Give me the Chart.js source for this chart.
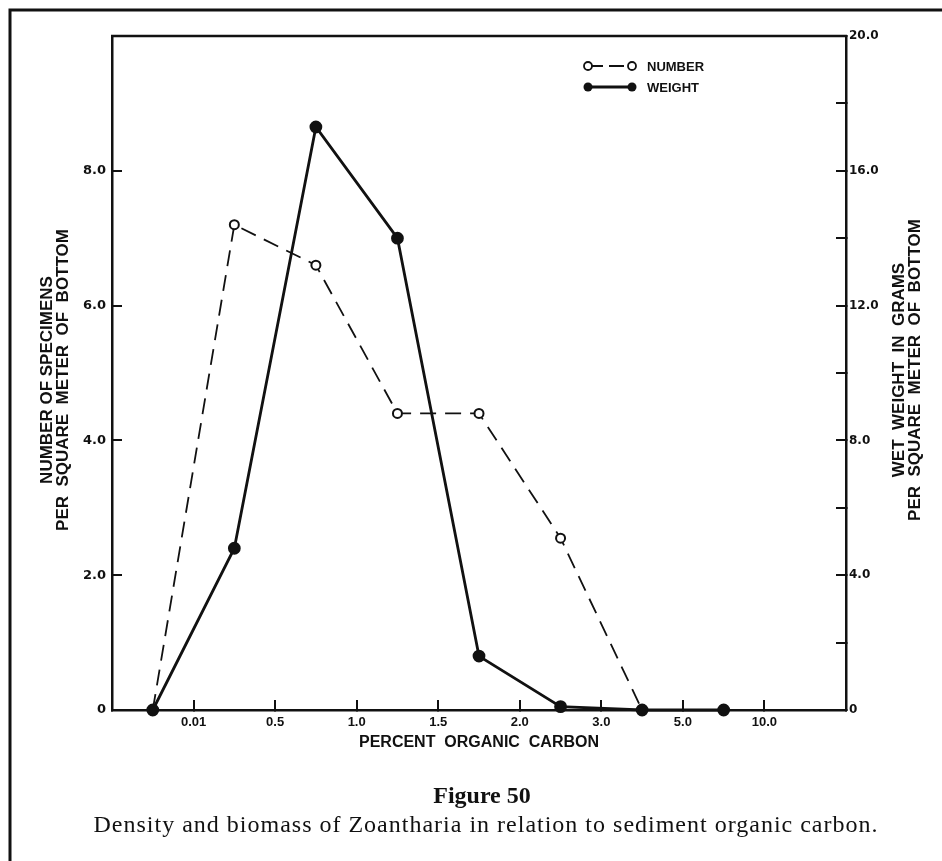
<!DOCTYPE html>
<html>
<head>
<meta charset="utf-8">
<script src="https://cdn.jsdelivr.net/npm/chart.js@4.4.0/dist/chart.umd.min.js"></script>
<style>
  body { margin: 0; background: #fff; }
  #wrap { width: 942px; height: 861px; }
</style>
</head>
<body>
<div id="wrap"><canvas id="fig50" width="942" height="861"></canvas></div>
<script>
// percent organic carbon classes, each point sits in the middle of its class
var carbonClasses = ["<0.01", "0.01-0.5", "0.5-1.0", "1.0-1.5", "1.5-2.0", "2.0-3.0", "3.0-5.0", "5.0-10.0"];
// tick labels sit on the class boundaries
var boundaryLabels = ["0.01", "0.5", "1.0", "1.5", "2.0", "3.0", "5.0", "10.0"];
// number of specimens per square meter (left axis)
var numberVals = [0, 7.2, 6.6, 4.4, 4.4, 2.55, 0, 0];
// wet weight in grams per square meter (right axis)
var weightVals = [0, 4.8, 17.3, 14.0, 1.6, 0.1, 0, 0];

var INK = "#111";

function toPoints(vals) {
  return vals.map(function (v, i) { return { x: i + 0.5, y: v }; });
}

var tickGrid = {
  drawOnChartArea: false,
  drawTicks: true,
  tickLength: -10,
  color: INK,
  lineWidth: 2
};
var axisBorder = { display: true, color: INK, width: 2.5 };

// rotated two-line axis title, reads bottom to top
function sideTitle(ctx, lines, x, y) {
  ctx.save();
  ctx.translate(x, y);
  ctx.rotate(-Math.PI / 2);
  ctx.font = "bold 17px 'Liberation Sans'";
  ctx.textAlign = "center";
  ctx.textBaseline = "middle";
  ctx.fillText(lines[0], 0, -8);
  ctx.fillText(lines[1], 0, 8);
  ctx.restore();
}

var extras = {
  id: "figureExtras",
  afterDraw: function (chart) {
    var ctx = chart.ctx;
    var a = chart.chartArea;
    ctx.save();
    ctx.strokeStyle = INK;
    ctx.fillStyle = INK;

    // top edge of plot box
    ctx.lineWidth = 2.5;
    ctx.beginPath();
    ctx.moveTo(a.left - 1, a.top);
    ctx.lineTo(a.right + 1, a.top);
    ctx.stroke();

    // page frame (top and left)
    ctx.lineWidth = 3;
    ctx.beginPath();
    ctx.moveTo(10, 861);
    ctx.lineTo(10, 10);
    ctx.lineTo(942, 10);
    ctx.stroke();

    // legend
    var lx = 588, lx2 = 632;
    ctx.lineWidth = 1.8;
    ctx.setLineDash([15, 6]);
    ctx.beginPath();
    ctx.moveTo(lx, 66); ctx.lineTo(lx2, 66);
    ctx.stroke();
    ctx.setLineDash([]);
    [lx, lx2].forEach(function (x) {
      ctx.beginPath();
      ctx.arc(x, 66, 4, 0, Math.PI * 2);
      ctx.fillStyle = "#fff";
      ctx.fill();
      ctx.stroke();
    });
    ctx.fillStyle = INK;
    ctx.lineWidth = 2.8;
    ctx.beginPath();
    ctx.moveTo(lx, 87); ctx.lineTo(lx2, 87);
    ctx.stroke();
    [lx, lx2].forEach(function (x) {
      ctx.beginPath();
      ctx.arc(x, 87, 4.5, 0, Math.PI * 2);
      ctx.fill();
    });
    ctx.font = "bold 13px 'Liberation Sans'";
    ctx.textAlign = "left";
    ctx.textBaseline = "middle";
    ctx.fillText("NUMBER", 647, 67);
    ctx.fillText("WEIGHT", 647, 88);

    // axis titles
    sideTitle(ctx, ["NUMBER OF SPECIMENS", "PER  SQUARE  METER  OF  BOTTOM"], 55, 380);
    sideTitle(ctx, ["WET  WEIGHT  IN  GRAMS", "PER  SQUARE  METER  OF  BOTTOM"], 907, 370);

    // caption
    var cx = (a.left + a.right) / 2 + 3;
    ctx.textAlign = "center";
    ctx.textBaseline = "alphabetic";
    ctx.font = "bold 24px 'Liberation Serif'";
    ctx.fillText("Figure 50", cx, 803);
    ctx.font = "24px 'Liberation Serif'";
    ctx.letterSpacing = "1px";
    ctx.fillText("Density and biomass of Zoantharia in relation to sediment organic carbon.", cx + 4, 832);
    ctx.restore();
  }
};

var fig = new Chart(document.getElementById("fig50"), {
  type: "line",
  data: {
    datasets: [{
      label: "NUMBER",
      data: toPoints(numberVals),
      yAxisID: "y",
      order: 1,
      borderColor: INK,
      borderWidth: 1.8,
      borderDash: [16, 9],
      pointRadius: 4.5,
      pointBorderWidth: 2,
      pointBackgroundColor: "#fff",
      pointBorderColor: INK,
      tension: 0,
      clip: false
    }, {
      label: "WEIGHT",
      data: toPoints(weightVals),
      yAxisID: "y2",
      order: 0,
      borderColor: INK,
      borderWidth: 2.8,
      pointRadius: 5,
      pointBackgroundColor: INK,
      pointBorderColor: INK,
      tension: 0,
      clip: false
    }]
  },
  options: {
    responsive: false,
    devicePixelRatio: 1,
    animation: false,
    events: [],
    layout: { padding: { left: 20, right: 50, top: 36, bottom: 101 } },
    plugins: {
      legend: { display: false },
      tooltip: { enabled: false }
    },
    scales: {
      x: {
        type: "linear",
        min: 0,
        max: carbonClasses.length + 1,
        grid: tickGrid,
        border: axisBorder,
        ticks: {
          stepSize: 1,
          autoSkip: false,
          maxRotation: 0,
          padding: 15,
          color: INK,
          font: { family: "Liberation Sans", weight: "bold", size: 13 },
          callback: function (v) { return boundaryLabels[v - 1] || ""; }
        },
        title: {
          display: true,
          text: "PERCENT  ORGANIC  CARBON",
          color: INK,
          font: { family: "Liberation Sans", weight: "bold", size: 16, lineHeight: 1 },
          padding: { top: 0, bottom: 9 }
        },
        afterFit: function (s) { s.height = 50; }
      },
      y: {
        position: "left",
        min: 0,
        max: 10,
        grid: tickGrid,
        border: axisBorder,
        ticks: {
          stepSize: 2,
          padding: 16,
          color: INK,
          font: { family: "DejaVu Sans", weight: "bold", size: 13 },
          callback: function (v) { return v === 0 ? "0" : (v >= 10 ? "" : v.toFixed(1)); }
        },
        afterFit: function (s) { s.width = 92; }
      },
      y2: {
        position: "right",
        min: 0,
        max: 20,
        grid: tickGrid,
        border: axisBorder,
        ticks: {
          stepSize: 2,
          autoSkip: false,
          padding: 13,
          color: INK,
          font: { family: "DejaVu Sans", weight: "bold", size: 12 },
          callback: function (v) { return v === 0 ? "0" : (v % 4 === 0 ? v.toFixed(1) : ""); }
        },
        afterFit: function (s) { s.width = 46; }
      }
    }
  },
  plugins: [extras]
});
</script>
</body>
</html>
